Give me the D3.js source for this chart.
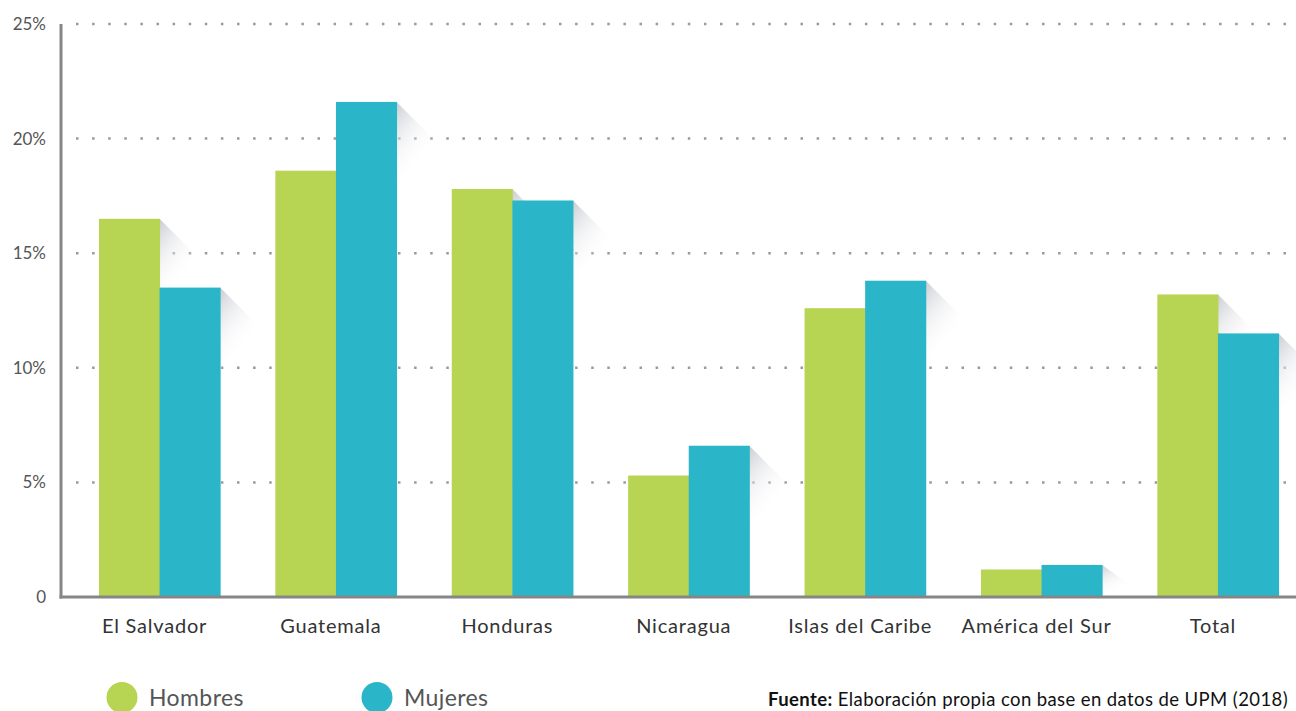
<!DOCTYPE html>
<html><head><meta charset="utf-8">
<script src="https://cdn.jsdelivr.net/npm/d3@7/dist/d3.min.js"></script>
<style>
html,body{margin:0;padding:0;background:#fff;}
svg{display:block;font-family:Lato,"Noto Sans",sans-serif;}
</style></head>
<body>
<svg id="chart" width="1296" height="711"></svg>
<script>
const categories = ["El Salvador","Guatemala","Honduras","Nicaragua","Islas del Caribe","América del Sur","Total"];
const seriesNames = ["Hombres","Mujeres"];
const hombres = [16.5,18.6,17.8,5.3,12.6,1.2,13.2];
const mujeres = [13.5,21.6,17.3,6.6,13.8,1.4,11.5];
const yTicks = [0,5,10,15,20,25];
const yTickLabels = ["0","5%","10%","15%","20%","25%"];
const colors = ["#b7d452","#2bb5c8"];
const sourceBold = "Fuente:";
const sourceText = " Elaboración propia con base en datos de UPM (2018)";

const svg = d3.select("#chart");
const x0 = 61, yBase = 597, yTop = 24, xRight = 1296;

const x = d3.scaleBand().domain(categories).range([72.5,1305]).paddingInner(0.313).paddingOuter(0.15);
const xs = d3.scaleBand().domain(seriesNames).range([0,x.bandwidth()]);
const y = d3.scaleLinear().domain([0,25]).range([yBase,yTop]);

const defs = svg.append("defs");
const grad = defs.append("linearGradient").attr("id","shadowGrad")
  .attr("x1","0").attr("y1","0").attr("x2","0.45").attr("y2","0.75");
grad.append("stop").attr("offset","0%").attr("stop-color","#c4c6cc").attr("stop-opacity",0.9);
grad.append("stop").attr("offset","45%").attr("stop-color","#e2e3e7").attr("stop-opacity",0.5);
grad.append("stop").attr("offset","100%").attr("stop-color","#ffffff").attr("stop-opacity",0);

// gridlines
svg.append("g").selectAll("line").data(yTicks.filter(d=>d>0)).join("line")
  .attr("x1",x0+15).attr("x2",xRight).attr("y1",d=>y(d)).attr("y2",d=>y(d))
  .attr("stroke","#9a9a9a").attr("stroke-width",2.5).attr("stroke-dasharray","2.5,13.6");

const data = categories.map((c,i)=>({cat:c, vals:[{s:"Hombres",v:hombres[i]},{s:"Mujeres",v:mujeres[i]}]}));

// shadows
const sh = svg.append("g");
data.forEach(d=>{
  d.vals.forEach(v=>{
    const xr = x(d.cat)+xs(v.s)+xs.bandwidth();
    const yt = y(v.v);
    const len = 44;
    const h = Math.min(90, yBase-yt);
    sh.append("polygon")
      .attr("points",[[xr,yt],[xr+len,yt+Math.min(len,h)],[xr+len,yt+h],[xr,yt+h]].map(p=>p.join(",")).join(" "))
      .attr("fill","url(#shadowGrad)");
  });
});

// bars
const g = svg.append("g");
data.forEach(d=>{
  g.selectAll(null).data(d.vals).join("rect")
    .attr("x",v=>x(d.cat)+xs(v.s))
    .attr("width",xs.bandwidth()+0.5)
    .attr("y",v=>y(v.v))
    .attr("height",v=>yBase-y(v.v))
    .attr("fill",(v,i)=>colors[i]);
});

// axes lines
svg.append("line").attr("x1",x0).attr("x2",x0).attr("y1",yTop).attr("y2",yBase+1.5)
  .attr("stroke","#868686").attr("stroke-width",3);
svg.append("line").attr("x1",x0-1.5).attr("x2",xRight).attr("y1",yBase).attr("y2",yBase)
  .attr("stroke","#868686").attr("stroke-width",3);

// y tick labels
svg.append("g").selectAll("text").data(yTicks).join("text")
  .attr("x",46).attr("y",d=>y(d)+6).attr("text-anchor","end")
  .attr("font-size",17).attr("fill","#555")
  .text((d,i)=>yTickLabels[i]);

// category labels
svg.append("g").selectAll("text").data(categories).join("text")
  .attr("x",d=>x(d)+x.bandwidth()/2-5).attr("y",633).attr("text-anchor","middle")
  .attr("font-size",20).attr("letter-spacing",0.8).attr("fill","#333")
  .text(d=>d);

// legend
const leg = svg.append("g");
seriesNames.forEach((s,i)=>{
  const cx = 122 + i*255;
  leg.append("circle").attr("cx",cx).attr("cy",697.5).attr("r",15.5).attr("fill",colors[i]);
  leg.append("text").attr("x",cx+27).attr("y",706).attr("font-size",23).attr("letter-spacing",0.4).attr("fill","#555").text(s);
});

// source
const src = svg.append("text").attr("x",1288).attr("y",706).attr("text-anchor","end")
  .attr("font-size",18.5).attr("letter-spacing",0.4).attr("fill","#111");
src.append("tspan").attr("font-weight","bold").text(sourceBold);
src.append("tspan").text(sourceText);
</script>
</body></html>
